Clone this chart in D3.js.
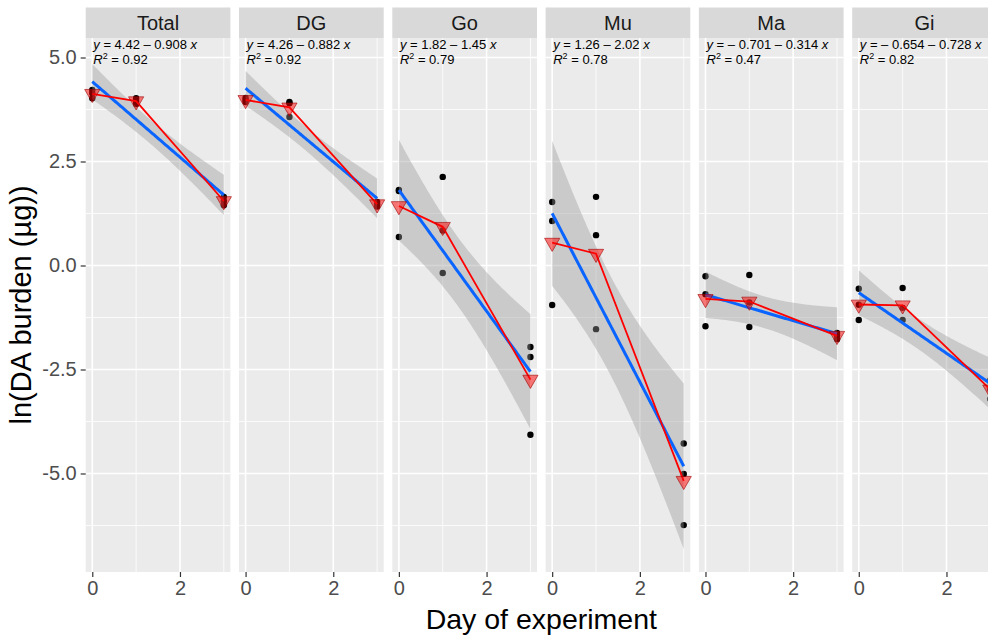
<!DOCTYPE html>
<html>
<head>
<meta charset="utf-8">
<script src="https://cdn.jsdelivr.net/npm/d3@7"></script>
<style>
  body { margin: 0; background: #fff; }
  text { font-family: "Liberation Sans", Arial, sans-serif; }
</style>
</head>
<body>
<svg width="988" height="637"></svg>
<script>
// facets and sampling days (3 fish per day)
var panels = ["Total", "DG", "Go", "Mu", "Ma", "Gi"];
var days = [0, 0, 0, 1, 1, 1, 3, 3, 3];

// ln(DA burden) per fish
var totalVals = [4.02, 4.14, 4.22, 4.02, 3.95, 3.88, 1.45, 1.55, 1.65];
var dgVals    = [3.93, 3.98, 4.03, 3.57, 3.93, 3.90, 1.42, 1.47, 1.53];
var goVals    = [1.79, 1.815, 0.685, 2.13, 0.84, -0.18, -1.96, -2.20, -4.07];
var muVals    = [1.526, 1.07, -0.95, 1.65, 0.73, -1.53, -4.28, -5.01, -6.24];
var maVals    = [-0.26, -0.69, -1.46, -0.23, -0.888, -1.48, -1.62, -1.68, -1.77];
var giVals    = [-0.56, -0.944, -1.31, -0.54, -1.018, -1.31, -2.75, -2.98, -3.21];

// equation labels printed in each panel
var eqIntercept = ["4.42", "4.26", "1.82", "1.26", "\u2013 0.701", "\u2013 0.654"];
var eqSlope     = ["0.908", "0.882", "1.45", "2.02", "0.314", "0.728"];
var eqR2        = ["0.92", "0.92", "0.79", "0.78", "0.47", "0.82"];

var xTicks = [0, 2];
var yTicks = [5.0, 2.5, 0.0, -2.5, -5.0];

var allVals = [totalVals, dgVals, goVals, muVals, maVals, giVals];

var svg = d3.select("svg"),
    margin = { top: 38, left: 85.7 },
    panelW = 144.7,
    panelH = 534,
    pitch = 153.3,
    stripH = 30.5;

var x = d3.scaleLinear().domain([-0.15, 3.15]).range([0, panelW]);
var y = d3.scaleLinear().domain([-7.368, 5.469]).range([panelH, 0]);

// least squares + 95% confidence band, like geom_smooth(method = "lm")
function fitLm(xs, ys) {
    var n = xs.length,
        mx = d3.mean(xs), my = d3.mean(ys),
        sxx = d3.sum(xs, function (d) { return (d - mx) * (d - mx); }),
        sxy = d3.sum(xs, function (d, i) { return (d - mx) * (ys[i] - my); }),
        b = sxy / sxx, a = my - b * mx,
        rss = d3.sum(xs, function (d, i) { var r = ys[i] - a - b * d; return r * r; }),
        s = Math.sqrt(rss / (n - 2)),
        t = 2.3646; // qt(0.975, 7)
    var grid = d3.range(0, 80).map(function (i) { return 3 * i / 79; });
    return grid.map(function (g) {
        var fit = a + b * g,
            se = s * Math.sqrt(1 / n + (g - mx) * (g - mx) / sxx);
        return { x: g, fit: fit, lo: fit - t * se, hi: fit + t * se };
    });
}

var minorY = [3.75, 1.25, -1.25, -3.75, -6.25];
var minorX = [1, 3];

panels.forEach(function (name, p) {
    var vals = allVals[p];
    var g = svg.append("g")
        .attr("transform", "translate(" + (margin.left + p * pitch) + "," + margin.top + ")");

    // strip
    svg.append("rect")
        .attr("x", margin.left + p * pitch).attr("y", margin.top - stripH)
        .attr("width", panelW).attr("height", stripH)
        .attr("fill", "#D9D9D9");
    svg.append("text")
        .attr("x", margin.left + p * pitch + panelW / 2).attr("y", margin.top - stripH / 2)
        .attr("dy", "0.36em")
        .attr("text-anchor", "middle")
        .attr("font-size", 20).attr("fill", "#1A1A1A")
        .text(name);

    g.append("rect").attr("width", panelW).attr("height", panelH).attr("fill", "#EBEBEB");

    g.selectAll(".minory").data(minorY).enter().append("line")
        .attr("x1", 0).attr("x2", panelW)
        .attr("y1", function (d) { return y(d); }).attr("y2", function (d) { return y(d); })
        .attr("stroke", "#fff").attr("stroke-width", 0.8);
    g.selectAll(".minorx").data(minorX).enter().append("line")
        .attr("y1", 0).attr("y2", panelH)
        .attr("x1", function (d) { return x(d); }).attr("x2", function (d) { return x(d); })
        .attr("stroke", "#fff").attr("stroke-width", 0.8);
    g.selectAll(".majory").data(yTicks).enter().append("line")
        .attr("x1", 0).attr("x2", panelW)
        .attr("y1", function (d) { return y(d); }).attr("y2", function (d) { return y(d); })
        .attr("stroke", "#fff").attr("stroke-width", 1.6);
    g.selectAll(".majorx").data(xTicks).enter().append("line")
        .attr("y1", 0).attr("y2", panelH)
        .attr("x1", function (d) { return x(d); }).attr("x2", function (d) { return x(d); })
        .attr("stroke", "#fff").attr("stroke-width", 1.6);

    // x axis
    var ax = g.append("g")
        .attr("transform", "translate(0," + panelH + ")")
        .call(d3.axisBottom(x).tickValues(xTicks).tickFormat(d3.format("d")).tickSize(5).tickPadding(4));
    ax.select(".domain").remove();
    ax.selectAll("line").attr("stroke", "#333333").attr("stroke-width", 1.2);
    ax.selectAll("text").attr("font-size", 20).attr("fill", "#4D4D4D")
        .attr("font-family", "Liberation Sans, Arial, sans-serif");

    if (p === 0) {
        var ay = g.append("g")
            .call(d3.axisLeft(y).tickValues(yTicks).tickFormat(d3.format(".1f")).tickSize(5).tickPadding(4));
        ay.select(".domain").remove();
        ay.selectAll("line").attr("stroke", "#333333").attr("stroke-width", 1.2);
        ay.selectAll("text").attr("font-size", 20).attr("fill", "#4D4D4D")
            .attr("font-family", "Liberation Sans, Arial, sans-serif")
            .text(function (d) { return d3.format(".1f")(d).replace("\u2212", "-"); });
    }

    var plot = g.append("g");

    // raw points
    plot.selectAll(".pt").data(vals).enter().append("circle")
        .attr("cx", function (d, i) { return x(days[i]); })
        .attr("cy", function (d) { return y(d); })
        .attr("r", 3.2).attr("fill", "#000");

    // lm fit with band
    var fit = fitLm(days, vals);
    plot.append("path").datum(fit)
        .attr("d", d3.area()
            .x(function (d) { return x(d.x); })
            .y0(function (d) { return y(d.lo); })
            .y1(function (d) { return y(d.hi); }))
        .attr("fill", "#999999").attr("fill-opacity", 0.4);
    plot.append("path").datum(fit)
        .attr("d", d3.line()
            .x(function (d) { return x(d.x); })
            .y(function (d) { return y(d.fit); }))
        .attr("fill", "none").attr("stroke", "#0A64FF").attr("stroke-width", 3);

    // daily means
    var means = d3.rollups(vals.map(function (v, i) { return { day: days[i], v: v }; }),
        function (r) { return d3.mean(r, function (d) { return d.v; }); },
        function (d) { return d.day; });
    plot.append("path").datum(means)
        .attr("d", d3.line()
            .x(function (d) { return x(d[0]); })
            .y(function (d) { return y(d[1]); }))
        .attr("fill", "none").attr("stroke", "#FF0000").attr("stroke-width", 1.8);
    plot.selectAll(".mean").data(means).enter().append("path")
        .attr("d", d3.symbol().type(d3.symbolTriangle).size(100))
        .attr("transform", function (d) { return "translate(" + x(d[0]) + "," + y(d[1]) + ") rotate(180)"; })
        .attr("fill", "#FF0000").attr("fill-opacity", 0.5)
        .attr("stroke", "#A00000").attr("stroke-opacity", 0.6).attr("stroke-width", 1);

    // equation label
    var lab = g.append("text")
        .attr("x", 7.6).attr("y", 11)
        .attr("font-size", 13).attr("fill", "#000");
    lab.append("tspan").attr("font-style", "italic").text("y");
    lab.append("tspan").text(" = " + eqIntercept[p] + " \u2013 " + eqSlope[p] + " ");
    lab.append("tspan").attr("font-style", "italic").text("x");
    var lab2 = g.append("text")
        .attr("x", 7.6).attr("y", 25.5)
        .attr("font-size", 13).attr("fill", "#000");
    lab2.append("tspan").attr("font-style", "italic").text("R");
    lab2.append("tspan").attr("dy", -4.5).attr("font-size", 9).text("2");
    lab2.append("tspan").attr("dy", 4.5).text(" = " + eqR2[p]);
});

// axis titles
svg.append("text")
    .attr("transform", "translate(31," + (margin.top + panelH / 2) + ") rotate(-90)")
    .attr("text-anchor", "middle")
    .attr("font-size", 29).attr("fill", "#000")
    .text("ln(DA burden (\u00b5g))");
svg.append("text")
    .attr("x", margin.left + (5 * pitch + panelW) / 2).attr("y", 629)
    .attr("text-anchor", "middle")
    .attr("font-size", 28.5).attr("fill", "#000")
    .text("Day of experiment");
</script>
</body>
</html>
